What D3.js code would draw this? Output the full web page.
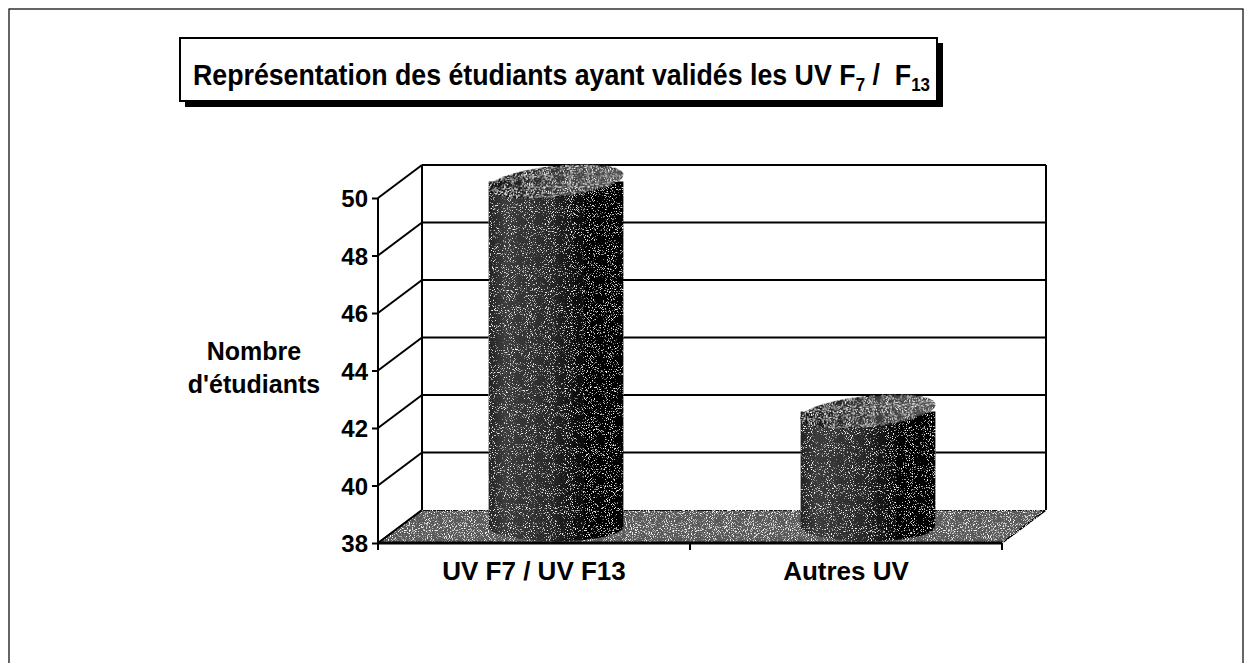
<!DOCTYPE html>
<html>
<head>
<meta charset="utf-8">
<style>
  body { margin: 0; background: #fff; }
  text { font-family: Arial, "Liberation Sans", sans-serif; font-weight: bold; fill: #000; }
</style>
</head>
<body>
<svg id="chart" width="1247" height="663"></svg>
<script src="https://d3js.org/d3.v7.min.js"></script>
<script>
    const categories = ["UV F7 / UV F13", "Autres UV"];
    const values = [50, 42];
    const yTicks = [38, 40, 42, 44, 46, 48, 50];
    const yLabel = ["Nombre", "d'étudiants"];
    // title pieces: [text, is subscript]
    const titleParts = [["Représentation des étudiants ayant validés les UV F", false], ["7", true],
                        [" /\u00a0\u00a0F", false], ["13", true]];

    const DX = 44, DY = -33;   // depth offset for the 3d look
    const FONT = 'Arial, "Liberation Sans", sans-serif';
    let svg = d3.select('#chart');

    let x = d3.scaleBand().domain(categories).range([378, 1002]);
    let y = d3.scaleLinear().domain([38, 50]).range([543, 198]);

    let defs = svg.append('defs');

    // speckle texture, like the scanned dithering
    function speckle(id, a, b, seed) {
        let f = defs.append('filter').attr('id', id)
            .attr('x', 0).attr('y', 0).attr('width', '100%').attr('height', '100%');
        f.append('feTurbulence').attr('type', 'fractalNoise').attr('baseFrequency', 0.95)
            .attr('numOctaves', 2).attr('seed', seed).attr('result', 'noise');
        f.append('feColorMatrix').attr('in', 'noise').attr('type', 'matrix')
            .attr('values', `0 0 0 0 1  0 0 0 0 1  0 0 0 0 1  ${a} 0 0 0 ${b}`)
            .attr('result', 'dots');
        f.append('feComposite').attr('in', 'dots').attr('in2', 'SourceGraphic')
            .attr('operator', 'in').attr('result', 'dots2');
        let m = f.append('feMerge');
        m.append('feMergeNode').attr('in', 'SourceGraphic');
        m.append('feMergeNode').attr('in', 'dots2');
    }
    speckle('speckleFloor', 5, -2.7, 4);
    speckle('speckleCyl', 6, -3.6, 7);

    let g = defs.append('linearGradient').attr('id', 'cyl')
        .attr('x1', 0).attr('x2', 1).attr('y1', 0).attr('y2', 0);
    g.append('stop').attr('offset', '0%').attr('stop-color', '#222');
    g.append('stop').attr('offset', '12%').attr('stop-color', '#3c3c3c');
    g.append('stop').attr('offset', '45%').attr('stop-color', '#2a2a2a');
    g.append('stop').attr('offset', '72%').attr('stop-color', '#050505');
    g.append('stop').attr('offset', '100%').attr('stop-color', '#000');

    let gt = defs.append('linearGradient').attr('id', 'cyltop')
        .attr('x1', 0).attr('x2', 1).attr('y1', 0).attr('y2', 0);
    gt.append('stop').attr('offset', '0%').attr('stop-color', '#111');
    gt.append('stop').attr('offset', '40%').attr('stop-color', '#333');
    gt.append('stop').attr('offset', '100%').attr('stop-color', '#555');

    // outer frame
    svg.append('rect').attr('x', 9).attr('y', 9).attr('width', 1234).attr('height', 670)
        .attr('fill', 'none').attr('stroke', '#000').attr('stroke-width', 1.2);

    // title box with shadow
    svg.append('rect').attr('x', 185).attr('y', 43).attr('width', 758).attr('height', 64).attr('fill', '#000');
    svg.append('rect').attr('x', 180).attr('y', 38).attr('width', 757).attr('height', 63)
        .attr('fill', '#fff').attr('stroke', '#000').attr('stroke-width', 2);

    // title: separate pieces laid side by side, then squeezed to the box width
    let tg = svg.append('g');
    let tx = 0;
    titleParts.forEach(function(p) {
        let t = tg.append('text').attr('x', tx).attr('y', p[1] ? 91 : 85)
            .attr('font-size', p[1] ? 19 : 30).attr('xml:space', 'preserve').text(p[0]);
        tx += t.node().getComputedTextLength();
    });
    tg.attr('transform', `translate(193,0) scale(${737 / tx},1)`);

    // floor
    let floor = [[378, 543], [1002, 543], [1002 + DX, 543 + DY], [378 + DX, 543 + DY]];
    svg.append('polygon').attr('points', floor.map(p => p.join(',')).join(' '))
        .attr('fill', '#5a5a5a').attr('stroke', '#000').attr('stroke-width', 1.5)
        .attr('filter', 'url(#speckleFloor)');

    // back wall grid lines + side wall diagonals
    yTicks.filter(t => t > 38).forEach(function(t) {
        svg.append('line').attr('x1', 378 + DX).attr('x2', 1002 + DX)
            .attr('y1', y(t) + DY).attr('y2', y(t) + DY)
            .attr('stroke', '#000').attr('stroke-width', 2);
    });
    yTicks.forEach(function(t) {
        svg.append('line').attr('x1', 378).attr('y1', y(t))
            .attr('x2', 378 + DX).attr('y2', y(t) + DY)
            .attr('stroke', '#000').attr('stroke-width', 2);
    });
    svg.append('line').attr('x1', 378 + DX).attr('x2', 378 + DX)
        .attr('y1', y(38) + DY).attr('y2', y(50) + DY).attr('stroke', '#000').attr('stroke-width', 2);
    svg.append('line').attr('x1', 1002 + DX).attr('x2', 1002 + DX)
        .attr('y1', y(38) + DY).attr('y2', y(50) + DY).attr('stroke', '#000').attr('stroke-width', 2);

    // cylinders
    const rx = x.bandwidth() * 0.216, ry = 15;
    categories.forEach(function(c, i) {
        let cx = x(c) + x.bandwidth() / 2 + DX / 2;
        let yb = y(38) + DY / 2, yt = y(values[i]) + DY / 2;
        let grp = svg.append('g');
        grp.append('path')
            .attr('d', `M${cx - rx},${yt} L${cx - rx},${yb} A${rx},${ry} 0 0 0 ${cx + rx},${yb} L${cx + rx},${yt} Z`)
            .attr('fill', 'url(#cyl)').attr('filter', 'url(#speckleCyl)');
        grp.append('ellipse').attr('cx', cx).attr('cy', yt).attr('rx', rx).attr('ry', ry)
            .attr('transform', `rotate(-6 ${cx} ${yt})`)
            .attr('fill', 'url(#cyltop)').attr('stroke', '#000').attr('stroke-width', 1)
            .attr('filter', 'url(#speckleFloor)');
    });

    // front axis
    svg.append('line').attr('x1', 378).attr('x2', 378).attr('y1', y(38)).attr('y2', y(50))
        .attr('stroke', '#000').attr('stroke-width', 2);
    svg.append('line').attr('x1', 378).attr('x2', 1002).attr('y1', y(38)).attr('y2', y(38))
        .attr('stroke', '#000').attr('stroke-width', 3);

    let yAxis = d3.axisLeft(y).tickValues(yTicks).tickSize(6).tickPadding(4);
    let ya = svg.append('g').attr('transform', 'translate(378,0)').call(yAxis);
    ya.select('.domain').remove();
    ya.selectAll('.tick line').attr('stroke', '#000').attr('stroke-width', 2);
    ya.selectAll('.tick text').attr('font-size', 24).attr('font-family', FONT)
        .attr('font-weight', 'bold').attr('fill', '#000').attr('dy', '0.36em');

    let xAxis = d3.axisBottom(x).tickSize(0).tickPadding(19);
    let xa = svg.append('g').attr('transform', `translate(0,${y(38)})`).call(xAxis);
    xa.select('.domain').remove();
    xa.selectAll('.tick text').attr('font-size', 26).attr('font-family', FONT)
        .attr('font-weight', 'bold').attr('fill', '#000');
    // boundary tick marks below the floor
    [x.range()[0], x(categories[1]), x.range()[1]].forEach(function(px) {
        svg.append('line').attr('x1', px).attr('x2', px).attr('y1', y(38)).attr('y2', y(38) + 7)
            .attr('stroke', '#000').attr('stroke-width', 2);
    });

    // y axis title
    let yl = svg.append('text').attr('text-anchor', 'middle').attr('font-size', 25);
    yLabel.forEach(function(s, i) {
        yl.append('tspan').attr('x', 254).attr('y', 360 + i * 33).text(s);
    });
</script>
</body>
</html>
